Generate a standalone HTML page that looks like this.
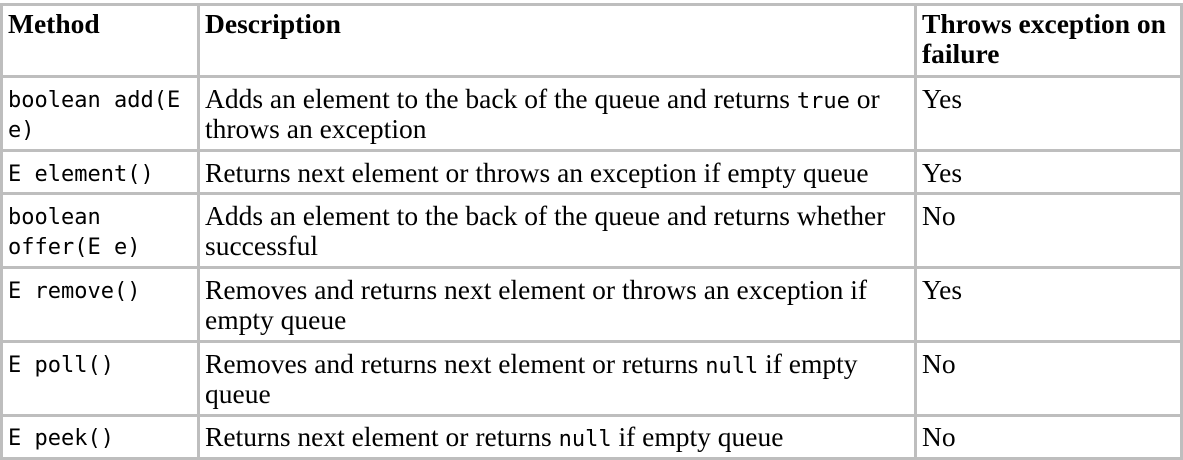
<!DOCTYPE html>
<html><head><style>
body{margin:0;width:1183px;height:460px;background:#fff;position:relative;overflow:hidden;font-family:"Liberation Serif",serif;color:#000}
.h,.v{position:absolute;background:#bebebe}
.h{left:0;width:1183px;height:3px}
.v{top:3px;height:457px;width:3px}
.t{position:absolute;line-height:30px;white-space:nowrap;font-family:"Liberation Serif",serif;font-size:27.5px}
.m{font-family:"DejaVu Sans Mono",monospace;font-size:22px}
span.m{line-height:0}
div.m{margin-top:2px}
b{font-weight:bold}
</style></head><body>
<div class="h" style="top:3px"></div>
<div class="h" style="top:75px"></div>
<div class="h" style="top:149px"></div>
<div class="h" style="top:192px"></div>
<div class="h" style="top:266px"></div>
<div class="h" style="top:340px"></div>
<div class="h" style="top:414px"></div>
<div class="h" style="top:457px"></div>
<div class="v" style="left:0"></div>
<div class="v" style="left:197px"></div>
<div class="v" style="left:914px"></div>
<div class="v" style="left:1180px"></div>

<div class="t" style="left:8px;top:9px"><b>Method</b></div>
<div class="t" style="left:205px;top:9px"><b>Description</b></div>
<div class="t" style="left:922px;top:9px"><b>Throws exception on<br>failure</b></div>

<div class="t m" style="left:8px;top:84px">boolean add(E<br>e)</div>
<div class="t" style="left:205px;top:84px">Adds an element to the back of the queue and returns <span class="m">true</span> or<br>throws an exception</div>
<div class="t" style="left:922px;top:84px">Yes</div>

<div class="t m" style="left:8px;top:158px">E element()</div>
<div class="t" style="left:205px;top:158px">Returns next element or throws an exception if empty queue</div>
<div class="t" style="left:922px;top:158px">Yes</div>

<div class="t m" style="left:8px;top:201px">boolean<br>offer(E e)</div>
<div class="t" style="left:205px;top:201px">Adds an element to the back of the queue and returns whether<br>successful</div>
<div class="t" style="left:922px;top:201px">No</div>

<div class="t m" style="left:8px;top:275px">E remove()</div>
<div class="t" style="left:205px;top:275px">Removes and returns next element or throws an exception if<br>empty queue</div>
<div class="t" style="left:922px;top:275px">Yes</div>

<div class="t m" style="left:8px;top:349px">E poll()</div>
<div class="t" style="left:205px;top:349px">Removes and returns next element or returns <span class="m">null</span> if empty<br>queue</div>
<div class="t" style="left:922px;top:349px">No</div>

<div class="t m" style="left:8px;top:422px">E peek()</div>
<div class="t" style="left:205px;top:422px">Returns next element or returns <span class="m">null</span> if empty queue</div>
<div class="t" style="left:922px;top:422px">No</div>
</body></html>
